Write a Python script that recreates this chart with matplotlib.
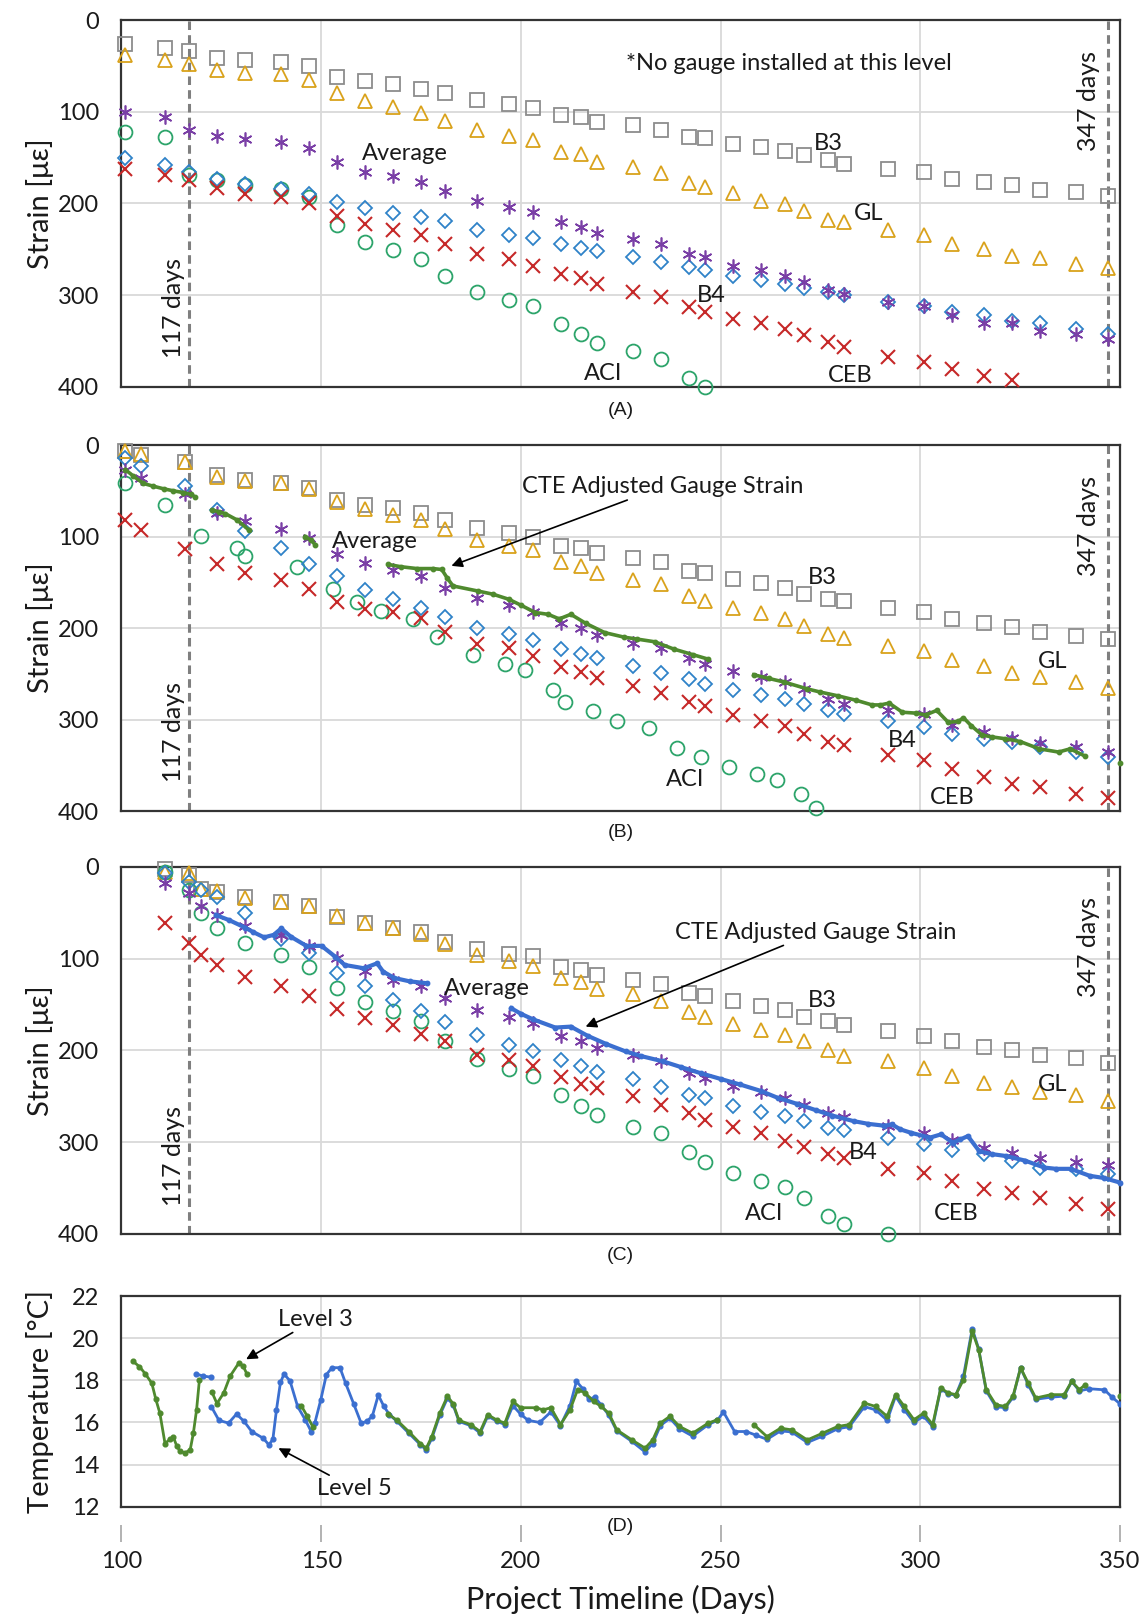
import numpy as np
import matplotlib
matplotlib.use("Agg")
import matplotlib.pyplot as plt

plt.rcParams['font.family'] = ['Lato', 'DejaVu Sans']

nan = np.nan
# ---------------- Panel A data ----------------
days_A = [101, 111, 117, 124, 131, 140, 147, 154, 161, 168, 175, 181, 189, 197, 203, 210, 215, 219,
          228, 235, 242, 246, 253, 260, 266, 271, 277, 281, 292, 301, 308, 316, 323, 330, 339, 347]
A_B3 = [26, 31, 33.5, 41, 44, 45.5, 50, 62, 67, 70, 75, 80, 87, 92, 95.5, 104, 106, 111,
        115, 119.5, 127.5, 129, 135, 138, 143, 147.5, 153, 156.6, 162, 166, 173, 177, 180, 185, 188, 192]
A_GL = [38, 44, 48, 54, 57.5, 59, 65, 80, 88, 95, 101, 110, 120, 126, 131, 144.5, 146, 154.5,
        160, 167, 178, 182, 189, 197, 201, 208, 218, 220, 229, 235, 244, 250, 257, 260, 266, 270]
A_AVG = [100, 106, 119.5, 126, 130, 133, 139.5, 155, 166, 170.5, 177, 186.5, 197.5, 204, 209.5, 220, 225.5, 232,
         238.6, 244, 255.7, 259, 268, 273, 279, 286, 295, 299, 308, 311.5, 322, 330, 331, 339, 342, 348]
A_B4 = [151, 158.5, 166, 173, 178.5, 184, 189.4, 198.5, 204.7, 210, 215, 219, 228.8, 234, 237.5, 244.5, 248.3, 252,
        258.6, 264, 269.6, 273, 279, 284, 288, 292, 297, 300, 308, 311.5, 319, 322, 328, 331, 337, 342]
A_CEB = [162, 169, 175, 183, 189.4, 193, 199.6, 214, 223, 228.8, 235, 244, 255, 260.5, 268, 277.3, 281, 288,
         297, 302, 313, 319, 326, 331, 337, 344, 351, 357, 368, 373.5, 380.7, 388, 393]
A_ACI = [122, 128, 169, 175, 180, 184, 193, 224, 242, 251, 260.5, 278.7, 297, 305, 311.5, 331.5, 342.2, 352.2,
         360.7, 370, 390, 400]

# ---------------- Panel B data ----------------
days_B = [101, 105, 116, 124, 131, 140, 147, 154, 161, 168, 175, 181, 189, 197, 203, 210, 215, 219,
          228, 235, 242, 246, 253, 260, 266, 271, 277, 281, 292, 301, 308, 316, 323, 330, 339, 347]
B_B3 = [7, 11, 18, 33, 38, 42, 47, 60, 66, 69, 74, 82, 91, 96, 100, 110.6, 113, 118,
        123, 128, 138, 140, 146, 151, 156, 163, 168.6, 170.4, 178, 182, 190, 195, 199, 204, 208.5, 212]
B_GL = [6, 10, 18, 34.5, 39, 42, 48, 62, 70, 76, 82, 92, 104, 110, 115, 128, 132, 140,
        147, 152, 165, 170.4, 178, 184, 190, 198, 207, 211, 220, 225, 235, 242, 249, 254, 259, 265]
B_AVG = [27, 36, 53, 74, 83, 92, 101.5, 118.6, 129, 137, 143, 156, 167.5, 175, 182.4, 195, 199.5, 208,
         216, 222, 233, 239, 246.6, 254, 259, 267, 278, 283, 290, 294, 306, 314, 320, 325.5, 330, 335.5]
B_B4 = [14.5, 23, 45, 71.5, 94, 112, 129.5, 143, 158, 168, 177.7, 187.5, 199.5, 207, 213, 223, 228.5, 233,
        241, 249, 256, 261, 268, 273, 278, 283, 290, 294, 302, 308, 315.5, 321, 325, 330, 335, 341]
B_CEB = [81.6, 92.5, 113.5, 130, 139.6, 147, 157, 171.5, 179, 182.4, 188.6, 204, 217.6, 222, 230, 243, 248, 254.5,
         263, 271, 281, 285, 295, 302, 307, 315.5, 324, 328, 339, 344.5, 354, 362.6, 370, 373.5, 381, 385.5]
B_ACI_days = [101, 111, 120, 129, 131, 144, 153, 159, 165, 173, 179, 188, 196, 201, 208, 211, 218,
              224, 232, 239, 245, 252, 259, 264, 270, 274]
B_ACI = [41, 65, 99, 112, 121, 133, 157, 171, 181, 190, 210, 229, 239, 246, 268, 281, 291,
         302, 309, 331, 341, 352, 360, 366, 381, 397]
B_cte_days = [101, 103, 105.5, 108, 110.7, 113, 115.5, 117.4, 118.5, nan,
              122.7, 124.5, 126, 129, 131.8, nan,
              146, 147.5, 148.5, nan,
              166.8, 170, 174, 178, 180.2, 181.5, 183, 189.3, 193, 197, 200, 203.6, 206.8, 209.6, 212.5,
              216.3, 221, 225.9, 229, 233.5, 238.3, 243, 246.9, nan,
              258.3, 262, 265.9, 271.7, 275, 279.3, 284, 287.9, 290, 292.2, 295.5, 299, 301.3, 304.1,
              307, 309.5, 310.8, 312.7, 315.5, 318, 321.3, 325, 329.8, 334.6, 337.5, 341.3, nan,
              349.9]
B_cte = [27, 34, 42, 45, 48, 50, 52, 54, 57, nan,
         71, 73, 75, 82, 92.5, nan,
         100, 104, 109, nan,
         130.5, 133, 135, 135, 136, 145, 154, 159.6, 163, 168.6, 175, 183, 185, 190, 185,
         195, 205, 210, 212, 215, 223, 229, 234, nan,
         251, 255, 259, 266.5, 270, 274, 279, 284, 284, 282, 292, 293, 295, 290,
         303, 302, 298, 306.5, 317, 319, 321, 324, 332, 335.5, 332, 340, nan,
         348]

# ---------------- Panel C data ----------------
days_C = [111, 117, 120, 124, 131, 140, 147, 154, 161, 168, 175, 181, 189, 197, 203, 210, 215, 219,
          228, 235, 242, 246, 253, 260, 266, 271, 277, 281, 292, 301, 308, 316, 323, 330, 339, 347]
C_B3 = [2, 9, 23.5, 27, 33, 38, 43, 55, 61.5, 66, 71, 81.5, 89, 94.6, 97.5, 108.6, 112, 117.6,
        123, 128, 137.6, 141, 146.6, 151, 156, 163, 168, 172, 178.5, 184, 190, 196, 200, 204.5, 208, 213.6]
C_GL = [5.4, 7, 23.5, 26, 34, 38, 43, 53.6, 61.5, 66, 73, 84, 96, 102, 108, 120.5, 125.5, 133,
        138, 146.6, 158.5, 163.7, 171, 178, 183, 190, 200, 205.6, 212, 219, 228, 235, 239.6, 245.4, 249, 255]
C_AVG = [17, 28, 42.7, 52.5, 64.4, 74, 86, 99.5, 113, 123, 130, 143, 155.6, 164, 170, 184.6, 190, 197,
         204.5, 212, 224.5, 230, 239, 245.4, 251.6, 259, 268, 272, 282, 290, 298, 305.8, 312, 316.7, 321.4, 325]
C_B4 = [7, 16, 24.6, 33, 50, 79, 94, 116, 130, 145.5, 157.5, 169.4, 183, 193.7, 201, 210.7, 216.5, 223,
        231, 239.6, 248, 251.6, 260, 267, 271.5, 277, 284, 286.7, 295, 302, 308.4, 313, 320, 327.6, 329, 335]
C_CEB = [61.5, 82.5, 96, 106.8, 119.5, 129.6, 140.5, 155, 164.7, 172, 181.5, 190, 204.5, 210, 216.5, 229, 236, 241,
         250, 259, 268.6, 275.8, 283, 290, 298.6, 304.8, 313, 316.7, 328.7, 333.7, 342, 350.5, 355.5, 361, 367.4, 372.8]
C_ACI = [5.4, 25, 50, 66, 82.5, 96, 109.4, 132, 147.7, 157.5, 168.4, 190, 209, 220, 228, 248, 260.6, 270.8,
         283, 290, 311, 321.4, 333.7, 342, 349, 361, 380, 389, 400]
C_cte_days = [123.7, 127, 130.9, 133, 135.7, 138.1, 140, 142.4, 146.3, 150.1, 153.5, 155.9, 160.7, 164, 165.5,
              168.3, 172.2, 176.5, nan,
              197.6, 200, 203, 208.6, 212.5, 216.7, 221.4, 226.2, 230, 235.7, 240, 245.2, 250, 254.8, 260,
              264.3, 269, 273.8, 278, 283.3, 287, 291, 292.9, 295, 297.6, 302.4, 305.2, 308.1, 310, 311.9,
              314.8, 318, 321.4, 326.2, 331, 334, 337.6, 342.4, 346, 350]
C_cte = [52.5, 58, 66, 71, 76.7, 74, 67, 76, 86, 86, 97.7, 106.8, 110.4, 105, 114,
         121, 124.7, 126.7, nan,
         154, 160, 166, 175, 174, 184, 193, 201, 206, 212, 218, 225, 231, 237, 244,
         251.6, 258, 265, 271, 277, 280, 282, 280.6, 286, 289.6, 295, 291.4, 300.5, 297, 293.3,
         310, 313, 315, 320, 327.6, 329, 329, 336.6, 339, 344]

# ---------------- Panel D data (temperature) ----------------
L3_days = [102.9, 104.5, 106, 107.6, 108.6, 109.6, 110.9, 112.1, 113, 113.8, 114.6, 115.9, 117.2, 118, 118.8, 119.5, nan,
           122.6, 123.9, 125.6, 127.2, 129.3, 130.4, 131.4, nan,
           145, 146.5, 147.9, nan,
           166.8, 169, 171.9, 174.8, 176.3, 177.7, 179.7, 181.6, 183, 184.5,
           187.4, 189.8, 191.7, 194.1, 196, 198, 199.9, 203.7, 205.6, 207.5,
           209.9, 212.3, 214.2, 216.1, 218.2, 220.1, 222, 224, 227.8, 231.1,
           233, 234.9, 237.3, 239.7, 243, 246.9, 249.2, nan,
           258.3, 261.6, 265, 267.8, 271.7, 275.5, 279.3, 282.2, 286, 288.8,
           291.7, 293.8, 296, 298.4, 300.8, 303.1, 305.1, 307, 308.9, 310.8,
           313, 314.6, 316.5, 318.9, 321.3, 323.2, 325.1, 327, 328.9, 332.7,
           336, 337.9, 339.8, 341.3, nan, 350]
L3_temp = [18.9, 18.65, 18.3, 17.86, 17.1, 16.45, 15.0, 15.2, 15.3, 14.9, 14.65, 14.55, 14.7, 15.5, 16.6, 18.0, nan,
           17.46, 16.9, 17.4, 18.2, 18.8, 18.7, 18.3, nan,
           16.8, 16.3, 15.8, nan,
           16.4, 16.1, 15.57, 15.0, 14.78, 15.33, 16.44, 17.24, 16.9, 16.1,
           15.9, 15.57, 16.37, 16.1, 15.97, 17.0, 16.7, 16.7, 16.6, 16.7,
           15.9, 16.6, 17.56, 17.4, 17.0, 16.76, 16.44, 15.65, 15.17, 14.78,
           15.17, 15.97, 16.29, 15.81, 15.49, 15.97, 16.13, nan,
           15.9, 15.33, 15.73, 15.65, 15.17, 15.49, 15.81, 15.9, 16.92, 16.76,
           16.29, 17.32, 16.76, 16.13, 16.44, 15.9, 17.63, 17.4, 17.32, 18.03,
           20.33, 19.46, 17.56, 16.84, 16.76, 17.24, 18.59, 17.87, 17.16, 17.32,
           17.32, 17.95, 17.56, 17.79, nan, 17.24]
L5_days = [118.7, 120.5, 122.5, nan,
           122.5, 124.4, 126.8, 128.8, 130.7, 132.6, 135.5, 136.9, 137.9, 138.8,
           139.8, 140.7, 142.2, 144.1, 146, 147.5, 148.4, 149.9, 151.3, 152.7,
           154.7, 156.1, 158.1, 160, 161.4, 162.8, 164.3, 165.7, 167.1, 169,
           171.9, 174.8, 176.3, 177.7, 179.7, 181.6, 183, 184.5, 187.4, 189.8,
           191.7, 194.1, 196, 198, 199.9, 201.8, 204.7, 207.5, 209.9, 212.3,
           213.9, 215.5, 217, 218.5, 220, 222, 224, 227.8, 231.1, 233,
           234.9, 237.3, 239.7, 243, 246.9, 249.2, 250.7, 253.5, 256.4, 258.8,
           261.6, 265, 267.8, 271.7, 275.5, 279.3, 282.2, 286, 288.8, 291.7,
           293.8, 296, 298.4, 300.8, 303.1, 305.1, 307, 308.9, 310.8, 313,
           314.6, 316.5, 318.9, 321.3, 323.2, 325.1, 327, 328.9, 332.7, 336,
           337.9, 339.8, 342.3, 346.1, 348, 349.9]
L5_temp = [18.3, 18.2, 18.15, nan,
           16.75, 16.1, 15.97, 16.4, 16.05, 15.57, 15.25, 14.94, 15.2, 16.6,
           17.9, 18.3, 17.97, 16.76, 16.13, 15.57, 15.97, 17.08, 18.27, 18.6,
           18.6, 17.87, 16.9, 15.97, 16.05, 16.3, 17.3, 16.76, 16.37, 16.05,
           15.5, 14.95, 14.7, 15.25, 16.35, 17.15, 16.85, 16.05, 15.85, 15.5,
           16.3, 16.05, 15.9, 16.8, 16.4, 16.1, 16.0, 16.5, 15.85, 16.8,
           17.95, 17.6, 17.1, 17.2, 16.85, 16.35, 15.6, 15.1, 14.6, 15.0,
           15.85, 16.2, 15.7, 15.35, 15.9, 16.1, 16.5, 15.57, 15.57, 15.4,
           15.2, 15.6, 15.55, 15.05, 15.35, 15.7, 15.8, 16.75, 16.6, 16.1,
           17.25, 16.6, 16.0, 16.3, 15.8, 17.6, 17.35, 17.3, 18.2, 20.45,
           19.5, 17.5, 16.75, 16.7, 17.2, 18.6, 17.8, 17.1, 17.2, 17.25,
           17.95, 17.5, 17.6, 17.55, 17.2, 16.9]

strain_ticks = [0, 100, 200, 300, 400]
temp_ticks = [12, 14, 16, 18, 20, 22]
x_ticks = [100, 150, 200, 250, 300, 350]
panel_labels = ['(A)', '(B)', '(C)', '(D)']

# ---------------- styling ----------------
COL_B3, COL_GL, COL_AVG, COL_B4, COL_CEB, COL_ACI = '#8c8c8c', '#d9a21b', '#7a3fa6', '#2f82c8', '#c62828', '#2ca46a'
GREEN_LINE = '#4f8a2e'
BLUE_LINE = '#3b6fd0'
GRID = '#d9d9d9'
SPINE = '#333333'
TXT = '#1a1a1a'
ASTER = (6, 2, 0)

fig = plt.figure(figsize=(11.45, 16.16), dpi=100)
L, W = 0.1061, 0.8721
axA = fig.add_axes([L, 0.7607, W, 0.2269])
axB = fig.add_axes([L, 0.4981, W, 0.2265])
axC = fig.add_axes([L, 0.2364, W, 0.2271])
axD = fig.add_axes([L, 0.0676, W, 0.1304])


def style(ax, ylim, yticks, grid_y):
    ax.set_xlim(100, 350)
    ax.set_ylim(*ylim)
    ax.set_yticks(yticks)
    ax.set_xticks(x_ticks)
    for v in [150, 200, 250, 300]:
        ax.axvline(v, color=GRID, lw=1.3, zorder=0)
    for v in grid_y:
        ax.axhline(v, color=GRID, lw=1.3, zorder=0)
    for s in ax.spines.values():
        s.set_color(SPINE)
        s.set_linewidth(1.6)
    ax.tick_params(axis='y', length=0, pad=16, labelsize=17, labelcolor=TXT)
    ax.tick_params(axis='x', length=0, labelbottom=False)


def markers(ax, d_b3, b3, d_gl, gl, d_avg, avg, d_b4, b4, d_ceb, ceb, d_aci, aci):
    kw = dict(linestyle='none', mfc='none', clip_on=False)
    ax.plot(d_b3, b3, marker='s', ms=9.5, mec=COL_B3, mew=1.3, zorder=3, **kw)
    ax.plot(d_gl, gl, marker='^', ms=10, mec=COL_GL, mew=1.3, zorder=3, **kw)
    ax.plot(d_aci, aci, marker='o', ms=10, mec=COL_ACI, mew=1.3, zorder=3, **kw)
    ax.plot(d_b4, b4, marker='D', ms=7, mec=COL_B4, mew=1.3, zorder=3, **kw)
    ax.plot(d_avg, avg, marker=ASTER, ms=10, mec=COL_AVG, mew=1.2, zorder=4, **kw)
    ax.plot(d_ceb, ceb, marker='x', ms=10, mec=COL_CEB, mew=1.5, zorder=4, **kw)


def vlines(ax, y117, y347):
    for d in (117, 347):
        ax.axvline(d, color='#7f7f7f', lw=2.2, dashes=(2.8, 1.7), zorder=2)
    ax.text(113, y117, '117 days', rotation=90, ha='center', va='center', fontsize=18, color=TXT)
    ax.text(342, y347, '347 days', rotation=90, ha='center', va='center', fontsize=18, color=TXT)


lab = dict(fontsize=17, color=TXT, ha='center', va='center', zorder=6)
arrow = dict(arrowstyle='-|>', color='black', lw=1.2, mutation_scale=16, shrinkA=0, shrinkB=0)

# Panel A
style(axA, (400, 0), strain_ticks, [100, 200, 300])
vlines(axA, 314, 88)
markers(axA, days_A, A_B3, days_A, A_GL, days_A, A_AVG, days_A, A_B4, days_A[:len(A_CEB)], A_CEB,
        days_A[:len(A_ACI)], A_ACI)
axA.text(267, 47, '*No gauge installed at this level', **lab)
axA.text(171, 146, 'Average', **lab)
axA.text(277, 135, 'B3', **lab)
axA.text(287, 211, 'GL', **lab)
axA.text(247.6, 300, 'B4', **lab)
axA.text(220.5, 386, 'ACI', **lab)
axA.text(282.4, 388, 'CEB', **lab)

# Panel B
style(axB, (400, 0), strain_ticks, [100, 200, 300])
vlines(axB, 314, 88)
axB.plot(B_cte_days, B_cte, color=GREEN_LINE, lw=2.6, marker='o', ms=3.2, zorder=5, clip_on=False)
markers(axB, days_B, B_B3, days_B, B_GL, days_B, B_AVG, days_B, B_B4, days_B, B_CEB, B_ACI_days, B_ACI)
axB.text(163.4, 105, 'Average', **lab)
axB.annotate('CTE Adjusted Gauge Strain', xy=(182.6, 132), xytext=(200.3, 45.6),
             ha='left', va='center', fontsize=17, color=TXT, arrowprops=arrow, zorder=6)
axB.text(275.5, 145, 'B3', **lab)
axB.text(333.2, 237, 'GL', **lab)
axB.text(295.5, 323, 'B4', **lab)
axB.text(241, 365, 'ACI', **lab)
axB.text(308, 385, 'CEB', **lab)

# Panel C
style(axC, (400, 0), strain_ticks, [100, 200, 300])
vlines(axC, 315, 87)
axC.plot(C_cte_days, C_cte, color=BLUE_LINE, lw=3.0, marker='o', ms=3.2, zorder=5, clip_on=False)
markers(axC, days_C, C_B3, days_C, C_GL, days_C, C_AVG, days_C, C_B4, days_C, C_CEB,
        days_C[:len(C_ACI)], C_ACI)
axC.text(191.4, 132, 'Average', **lab)
axC.annotate('CTE Adjusted Gauge Strain', xy=(216.2, 174), xytext=(238.6, 71),
             ha='left', va='center', fontsize=17, color=TXT, arrowprops=arrow, zorder=6)
axC.text(275.5, 146, 'B3', **lab)
axC.text(333, 237, 'GL', **lab)
axC.text(285.7, 311, 'B4', **lab)
axC.text(261, 378, 'ACI', **lab)
axC.text(309, 378, 'CEB', **lab)

# Panel D
style(axD, (12, 22), temp_ticks, [14, 16, 18, 20])
axD.plot(L5_days, L5_temp, color=BLUE_LINE, lw=2.0, marker='o', ms=3.4, zorder=3)
axD.plot(L3_days, L3_temp, color=GREEN_LINE, lw=2.0, marker='o', ms=3.4, zorder=4)
axD.annotate('Level 3', xy=(131.2, 19.0), xytext=(139.3, 20.9), ha='left', va='center',
             fontsize=17, color=TXT, arrowprops=arrow)
axD.annotate('Level 5', xy=(139.3, 14.78), xytext=(148.9, 12.87), ha='left', va='center',
             fontsize=17, color=TXT, arrowprops=arrow)
axD.spines['bottom'].set_position(('outward', 13))
axD.spines['bottom'].set_visible(False)
axD.plot([0, 1], [0, 0], transform=axD.transAxes, color=SPINE, lw=1.6, clip_on=False, zorder=6)
axD.tick_params(axis='x', length=12, width=1.2, color='#a6a6a6', direction='out',
                labelbottom=True, labelsize=17, labelcolor=TXT, pad=7)
axD.set_xlabel('Project Timeline (Days)', fontsize=22, color=TXT, labelpad=9)

for ax, pl, off in zip([axA, axB, axC, axD], panel_labels, [-0.066, -0.058, -0.06, -0.095]):
    ax.text(0.5, off, pl, transform=ax.transAxes, ha='center', va='center',
            fontsize=14, family='Liberation Sans', color=TXT)

for ax in (axA, axB, axC):
    ax.set_ylabel('Strain [με]', fontsize=21, color=TXT)
    ax.yaxis.set_label_coords(-0.068, 0.5)
axD.set_ylabel('Temperature [°C]', fontsize=21, color=TXT)
axD.yaxis.set_label_coords(-0.068, 0.5)

fig.savefig('out.png', dpi=100)
